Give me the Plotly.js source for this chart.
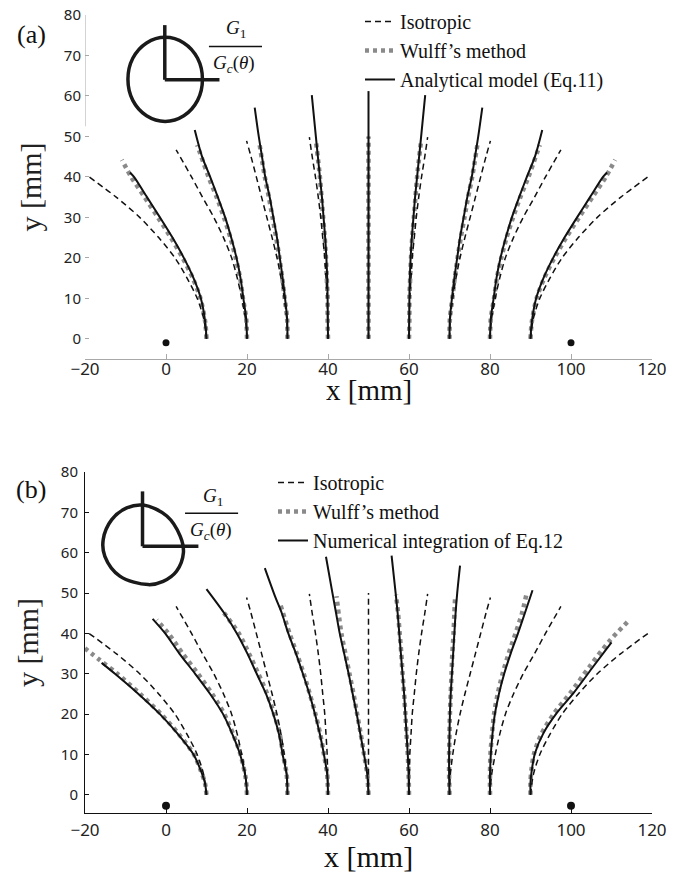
<!DOCTYPE html>
<html><head><meta charset="utf-8">
<script src="https://cdn.plot.ly/plotly-3.0.1.min.js"></script>
<style>html,body{margin:0;padding:0;background:#fff}</style>
</head><body>
<div id="chart" style="width:695px;height:874px"></div>
<script>
// ---------- tick values ----------
const xTicks = [-20, 0, 20, 40, 60, 80, 100, 120];
const yTicks = [0, 10, 20, 30, 40, 50, 60, 70, 80];

// ---------- Isotropic crack paths (same in both panels) ----------
const isoX = [
  [10, 9.3, 7.7, 5.2, 2.2, -1.8, -6.5, -12.3, -19.0],
  [20, 19.6, 18.7, 17.6, 16.2, 14.2, 11.8, 9.0, 6.3, 2.5],
  [30, 29.8, 29.2, 28.4, 27.4, 26.2, 24.9, 23.6, 22.3, 21.0, 19.9],
  [40, 39.9, 39.8, 39.5, 39.2, 38.7, 38.2, 37.6, 36.9, 36.1, 35.4],
  [50, 50],
  [60, 60.1, 60.2, 60.5, 60.8, 61.3, 61.8, 62.4, 63.1, 63.9, 64.6],
  [70, 70.2, 70.8, 71.6, 72.6, 73.8, 75.1, 76.4, 77.7, 79.0, 80.1],
  [80, 80.4, 81.3, 82.4, 83.8, 85.8, 88.2, 91.0, 93.7, 97.5],
  [90, 90.7, 92.3, 94.8, 97.8, 101.8, 106.5, 112.3, 119.0]
];
const isoY = [
  [0, 5, 10, 15, 20, 25, 30, 35, 40],
  [0, 5, 10, 15, 20, 25, 30, 35, 40, 46.7],
  [0, 5, 10, 15, 20, 25, 30, 35, 40, 45, 48.9],
  [0, 5, 10, 15, 20, 25, 30, 35, 40, 45, 49.8],
  [0, 50],
  [0, 5, 10, 15, 20, 25, 30, 35, 40, 45, 49.8],
  [0, 5, 10, 15, 20, 25, 30, 35, 40, 45, 48.9],
  [0, 5, 10, 15, 20, 25, 30, 35, 40, 46.7],
  [0, 5, 10, 15, 20, 25, 30, 35, 40]
];

// ---------- Panel (a): Wulff's method ----------
const wulffAX = [
  [10, 9.7, 8.5, 6.6, 4.1, 1.2, -2.0, -5.3, -8.6, -10.9],
  [20, 19.8, 19.0, 18.3, 17.2, 15.9, 14.3, 12.5, 10.5, 7.7],
  [30, 29.9, 29.3, 28.7, 28.0, 27.2, 26.3, 25.4, 24.4, 23.0],
  [40, 39.9, 39.9, 39.7, 39.5, 39.2, 38.8, 38.4, 38.0, 37.0],
  [50, 50],
  [60, 60.1, 60.1, 60.3, 60.5, 60.8, 61.2, 61.6, 62.0, 63.0],
  [70, 70.1, 70.7, 71.3, 72.0, 72.8, 73.7, 74.6, 75.6, 77.0],
  [80, 80.2, 81.0, 81.7, 82.8, 84.1, 85.7, 87.5, 89.5, 92.3],
  [90, 90.3, 91.5, 93.4, 95.9, 98.8, 102.0, 105.3, 108.6, 110.9]
];
const wulffAY = [
  [0, 4, 10, 15, 20, 25, 30, 35, 40, 44.2],
  [0, 5, 10, 15, 20, 25, 30, 35, 40, 47.9],
  [0, 5, 10, 15, 20, 25, 30, 35, 40, 48.7],
  [0, 5, 10, 15, 20, 25, 30, 35, 40, 49.1],
  [0, 50],
  [0, 5, 10, 15, 20, 25, 30, 35, 40, 49.1],
  [0, 5, 10, 15, 20, 25, 30, 35, 40, 48.7],
  [0, 5, 10, 15, 20, 25, 30, 35, 40, 47.9],
  [0, 4, 10, 15, 20, 25, 30, 35, 40, 44.2]
];

// ---------- Panel (a): Analytical model (Eq.11) ----------
const modelAX = [
  [10, 9.7, 8.6, 6.8, 4.4, 1.6, -1.5, -4.7, -7.9, -8.9],
  [20, 19.8, 19.1, 18.4, 17.4, 16.1, 14.6, 12.8, 10.9, 8.9, 7.1],
  [30, 29.9, 29.4, 28.8, 28.1, 27.4, 26.5, 25.6, 24.5, 23.7, 22.9, 21.9],
  [40, 39.95, 39.9, 39.8, 39.6, 39.3, 38.9, 38.5, 38.0, 37.5, 37.0, 36.0],
  [50, 50],
  [60, 60.05, 60.1, 60.2, 60.4, 60.7, 61.1, 61.5, 62.0, 62.5, 63.0, 64.0],
  [70, 70.1, 70.6, 71.2, 71.9, 72.6, 73.5, 74.4, 75.5, 76.3, 77.1, 78.1],
  [80, 80.2, 80.9, 81.6, 82.6, 83.9, 85.4, 87.2, 89.1, 91.1, 92.9],
  [90, 90.3, 91.4, 93.2, 95.6, 98.4, 101.5, 104.7, 107.9, 108.9]
];
const modelAY = [
  [0, 4, 10, 15, 20, 25, 30, 35, 40, 41.1],
  [0, 5, 10, 15, 20, 25, 30, 35, 40, 45, 51.6],
  [0, 5, 10, 15, 20, 25, 30, 35, 40, 45, 50, 57.1],
  [0, 5, 10, 15, 20, 25, 30, 35, 40, 45, 50, 60.2],
  [0, 61.2],
  [0, 5, 10, 15, 20, 25, 30, 35, 40, 45, 50, 60.2],
  [0, 5, 10, 15, 20, 25, 30, 35, 40, 45, 50, 57.1],
  [0, 5, 10, 15, 20, 25, 30, 35, 40, 45, 51.6],
  [0, 4, 10, 15, 20, 25, 30, 35, 40, 41.1]
];

// ---------- Panel (b): Wulff's method ----------
const wulffBX = [
  [10, 9.6, 8.6, 6.9, 3.2, -1.2, -6.4, -12.0, -16.2, -20.0],
  [20, 19.7, 18.4, 16.6, 14.4, 11.4, 7.9, 4.1, 0.6, -2.3],
  [30, 29.8, 28.9, 28.1, 26.7, 25.0, 22.8, 20.5, 18.0, 13.7],
  [40, 39.8, 39.0, 38.1, 36.9, 35.5, 34.0, 32.3, 30.5, 28.1],
  [50, 49.7, 48.9, 48.1, 47.2, 46.3, 45.3, 44.3, 43.3, 42.1],
  [60, 59.9, 59.7, 59.4, 59.1, 58.8, 58.4, 58.1, 57.7, 57.3, 56.8],
  [70, 69.9, 69.9, 70.0, 70.1, 70.3, 70.5, 70.7, 71.0, 71.2, 71.4],
  [80, 80.0, 80.1, 80.5, 81.0, 81.9, 83.1, 84.6, 86.3, 87.9, 89.0],
  [90, 90.0, 90.2, 90.9, 92.8, 95.9, 99.8, 104.6, 109.4, 113.9]
];
const wulffBY = [
  [0, 3, 6, 10, 15, 20, 25, 30, 33.3, 36.3],
  [0, 4, 10, 15, 20, 25, 30, 35, 40, 43.3],
  [0, 5, 10, 15, 20, 25, 30, 35, 40, 45.9],
  [0, 5, 10, 15, 20, 25, 30, 35, 40, 47.6],
  [0, 5, 10, 15, 20, 25, 30, 35, 40, 49.2],
  [0, 5, 10, 15, 20, 25, 30, 35, 40, 45, 49.6],
  [0, 5, 10, 15, 20, 25, 30, 35, 40, 45, 49.2],
  [0, 5, 10, 15, 20, 25, 30, 35, 40, 45, 49.7],
  [0, 3, 6, 10.3, 15.3, 20.3, 25.2, 31.8, 38, 42.8]
];

// ---------- Panel (b): Numerical integration of Eq.12 ----------
const numBX = [
  [10, 9.6, 8.6, 6.8, 3.0, -1.5, -6.8, -12.6, -15.9],
  [20, 19.7, 18.3, 16.4, 14.1, 10.9, 7.2, 3.3, -0.2, -3.3],
  [30, 29.8, 28.8, 27.9, 26.5, 24.7, 22.4, 20.1, 17.5, 14.4, 10.0],
  [40, 39.8, 39.0, 38.0, 36.8, 35.4, 33.8, 32.1, 30.2, 28.6, 27.0, 24.4],
  [50, 49.7, 48.9, 48.0, 47.1, 46.1, 45.1, 44.0, 42.9, 42.0, 41.1, 39.5],
  [60, 59.9, 59.7, 59.4, 59.1, 58.8, 58.4, 58.0, 57.6, 57.2, 56.7, 55.7],
  [70, 69.9, 69.9, 70.0, 70.1, 70.3, 70.6, 70.9, 71.2, 71.5, 71.9, 72.6],
  [80, 80.0, 80.2, 80.6, 81.2, 82.2, 83.5, 85.1, 86.9, 88.6, 90.5],
  [90, 90.0, 90.3, 91.1, 93.2, 96.5, 100.6, 105.5, 110.0]
];
const numBY = [
  [0, 3, 6, 10, 15, 20, 25, 30, 32.7],
  [0, 4, 10, 15, 20, 25, 30, 35, 40, 43.6],
  [0, 5, 10, 15, 20, 25, 30, 35, 40, 45, 51],
  [0, 5, 10, 15, 20, 25, 30, 35, 40, 45, 49, 56.2],
  [0, 5, 10, 15, 20, 25, 30, 35, 40, 45, 50, 59],
  [0, 5, 10, 15, 20, 25, 30, 35, 40, 45, 50, 59.3],
  [0, 5, 10, 15, 20, 25, 30, 35, 40, 45, 50, 56.8],
  [0, 5, 10, 15, 20, 25, 30, 35, 40, 45, 50.7],
  [0, 3, 6, 10.3, 15.3, 20.3, 25.2, 31.8, 37.8]
];

// ---------- hole markers ----------
const holesX = [0, 100];
const holesAY = [-1, -1];
const holesBY = [-2.7, -2.7];

// ---------- inset: polar plot of G1/Gc(theta) ----------
const insetAX = [9.0, 7.8, 4.4, -0.2, -4.8, -8.2, -9.4, -8.2, -4.8, -0.2, 4.4, 7.8, 9.0];
const insetAY = [64.1, 69.3, 73.1, 74.5, 73.1, 69.3, 64.1, 58.9, 55.1, 53.7, 55.1, 58.9, 64.1];
const crossAX = [-0.3, -0.3, null, -0.3, 13.2];
const crossAY = [64, 77.5, null, 64, 64];
const insetBX = [-5.6, 0.2, 3.5, 4.3, 2.6, -0.7, -4.4, -11.4, -15.1, -15.5, -13.4, -9.7, -5.6];
const insetBY = [71.8, 69.1, 64.1, 60.0, 55.4, 52.9, 52.1, 54.2, 59.1, 63.3, 68.2, 71.1, 71.8];
const crossBX = [-5.8, -5.8, null, -5.8, 8.0];
const crossBY = [61.6, 75.2, null, 61.6, 61.6];

// ---------- labels ----------
const seriesNames = ['Isotropic', "Wulff\u2019s method", 'Analytical model (Eq.11)', 'Numerical integration of Eq.12'];

// ---------- styles ----------
const serif = 'Liberation Serif, Times New Roman, serif';
const sans = 'Noto Sans, DejaVu Sans, sans-serif';
const isoLine = {color: '#111', width: 1.5, dash: '6px,4px', shape: 'spline', smoothing: 0.8};
const wulffLine = {color: '#8a8a8a', width: 4.5, dash: '4px,4px', shape: 'spline', smoothing: 0.8};
const modelLine = {color: '#111', width: 2, shape: 'spline', smoothing: 0.8};

const traces = [];
function addGroup(xs, ys, xa, ya, line, name, legend, rank) {
  xs.forEach((xv, i) => {
    traces.push({
      x: xv, y: ys[i], xaxis: xa, yaxis: ya, type: 'scatter', mode: 'lines',
      line: line, name: name, legend: legend, legendgroup: legend + name,
      showlegend: i === 0, legendrank: rank, hoverinfo: 'skip'
    });
  });
}
// panel a
addGroup(wulffAX, wulffAY, 'x', 'y', wulffLine, seriesNames[1], 'legend', 2);
addGroup(isoX, isoY, 'x', 'y', isoLine, seriesNames[0], 'legend', 1);
addGroup(modelAX, modelAY, 'x', 'y', modelLine, seriesNames[2], 'legend', 3);
// panel b
addGroup(wulffBX, wulffBY, 'x2', 'y2', wulffLine, seriesNames[1], 'legend2', 2);
addGroup(isoX, isoY, 'x2', 'y2', isoLine, seriesNames[0], 'legend2', 1);
addGroup(numBX, numBY, 'x2', 'y2', modelLine, seriesNames[3], 'legend2', 3);

// holes
traces.push({x: holesX, y: holesAY, xaxis: 'x', yaxis: 'y', mode: 'markers', marker: {color: '#111', size: 7}, showlegend: false, hoverinfo: 'skip'});
traces.push({x: holesX, y: holesBY, xaxis: 'x2', yaxis: 'y2', mode: 'markers', marker: {color: '#111', size: 8}, showlegend: false, hoverinfo: 'skip'});
// insets
const insetLine = {color: '#1a1a1a', width: 3.5, shape: 'spline', smoothing: 1};
traces.push({x: insetAX, y: insetAY, xaxis: 'x', yaxis: 'y', mode: 'lines', line: insetLine, showlegend: false, hoverinfo: 'skip'});
traces.push({x: crossAX, y: crossAY, xaxis: 'x', yaxis: 'y', mode: 'lines', line: {color: '#1a1a1a', width: 3.5}, showlegend: false, hoverinfo: 'skip'});
traces.push({x: insetBX, y: insetBY, xaxis: 'x2', yaxis: 'y2', mode: 'lines', line: insetLine, showlegend: false, hoverinfo: 'skip'});
traces.push({x: crossBX, y: crossBY, xaxis: 'x2', yaxis: 'y2', mode: 'lines', line: {color: '#1a1a1a', width: 3.5}, showlegend: false, hoverinfo: 'skip'});

function xAxis(color, anchor, standoff) {
  return {
    domain: [0, 1], range: [-20, 120], anchor: anchor, tickvals: xTicks,
    showline: true, linecolor: color, linewidth: 1, ticks: 'inside', ticklen: 5, tickcolor: color,
    tickfont: {family: sans, size: 17, color: '#222'}, ticklabelstandoff: standoff,
    showgrid: false, zeroline: false, fixedrange: true
  };
}
function yAxis(domain, range, color, showline, anchor) {
  return {
    domain: domain, range: range, anchor: anchor, tickvals: yTicks,
    showline: showline, linecolor: color, linewidth: 1, ticks: 'inside', ticklen: 4, tickcolor: color,
    tickfont: {family: sans, size: 15, color: '#222'}, ticklabelstandoff: 3,
    showgrid: false, zeroline: false, fixedrange: true,
    title: {text: 'y [mm]', font: {family: serif, size: 30, color: '#222'}, standoff: 13}
  };
}

const legendBase = {
  xanchor: 'left', yanchor: 'top', bgcolor: 'rgba(0,0,0,0)', borderwidth: 0,
  font: {family: serif, size: 20, color: '#111'}, tracegroupgap: 0, itemwidth: 30
};

function note(text, xref, yref, x, y, size) {
  return {text: text, xref: xref, yref: yref, x: x, y: y, xanchor: 'center', yanchor: 'middle',
          showarrow: false, font: {family: serif, size: size, color: '#111'}};
}

const layout = {
  width: 695, height: 874, paper_bgcolor: '#fff', plot_bgcolor: '#fff',
  margin: {l: 85, r: 43, t: 15, b: 61, autoexpand: false},
  showlegend: true,
  xaxis: xAxis('#a8a8a8', 'y', -5),
  yaxis: yAxis([0.5689, 1], [-5, 80], '#a8a8a8', false, 'x'),
  xaxis2: xAxis('#111', 'y2', 2),
  yaxis2: yAxis([0, 0.4273], [-4.5, 80], '#111', true, 'x2'),
  legend: Object.assign({}, legendBase, {x: 0.485, y: 1.0163}),
  legend2: Object.assign({}, legendBase, {x: 0.3316, y: 0.4386}),
  shapes: [
    {type: 'line', xref: 'x', yref: 'y', x0: -20, x1: -20, y0: 52.5, y1: 80, line: {color: '#a8a8a8', width: 1}},
    {type: 'line', xref: 'x', yref: 'y', x0: 10.6, x1: 23.7, y0: 72.2, y1: 72.2, line: {color: '#111', width: 1.5}},
    {type: 'line', xref: 'x2', yref: 'y2', x0: 4.7, x1: 17.8, y0: 69.8, y1: 69.8, line: {color: '#111', width: 1.5}}
  ],
  annotations: [
    note('(a)', 'paper', 'paper', -0.095, 0.975, 26),
    note('(b)', 'paper', 'paper', -0.095, 0.405, 26),
    note('x [mm]', 'paper', 'paper', 0.5, 0.5305, 29),
    note('x [mm]', 'paper', 'paper', 0.5, -0.0551, 30),
    note('<i>G</i><sub>1</sub>', 'x', 'y', 17.3, 76.5, 19),
    note('<i>G<sub>c</sub></i>(<i>\u03b8</i>)', 'x', 'y', 16.8, 68.0, 19),
    note('<i>G</i><sub>1</sub>', 'x2', 'y2', 11.5, 73.8, 19),
    note('<i>G<sub>c</sub></i>(<i>\u03b8</i>)', 'x2', 'y2', 11.0, 65.3, 19)
  ]
};

Plotly.newPlot('chart', traces, layout, {displayModeBar: false, staticPlot: true});
</script>
</body></html>
